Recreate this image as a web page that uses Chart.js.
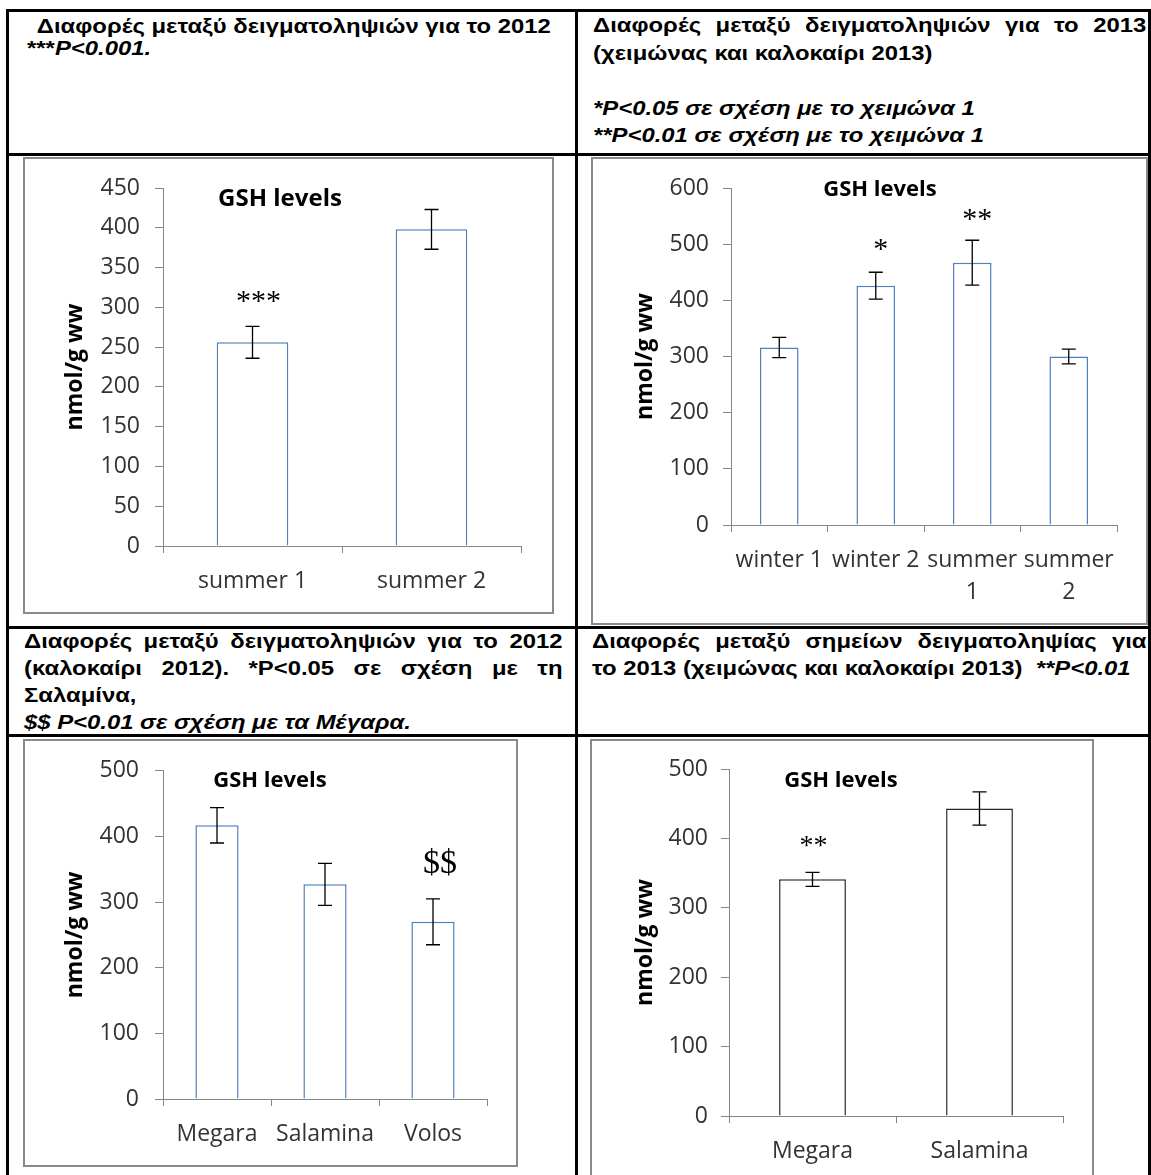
<!DOCTYPE html>
<html lang="el">
<head>
<meta charset="UTF-8">
<title>GSH levels</title>
<script src="https://cdn.jsdelivr.net/npm/chart.js"></script>
<style>
    body {
        margin: 0;
        width: 1151px;
        height: 1175px;
        position: relative;
        overflow: hidden;
        background: #fff;
        font-family: "Liberation Sans", Arial, sans-serif;
    }
    .line { position: absolute; background: #000; }
    /* the document text is wider than plain Arial, so stretch it a bit */
    .head {
        position: absolute;
        font-weight: bold;
        font-size: 19.5px;
        color: #000;
        transform: scaleX(1.224);
        transform-origin: left top;
    }
    .j { text-align: justify; text-align-last: justify; }
    .frame {
        position: absolute;
        border: 2px solid #8a8a8a;
        background: #fff;
        box-sizing: border-box;
    }
    .frame canvas { position: absolute; left: 0; top: 0; }
    .gtitle {
        position: absolute;
        font-family: "Open Sans", sans-serif;
        font-weight: bold;
        color: #000;
        transform: translate(-50%, -50%);
        white-space: nowrap;
    }
</style>
</head>
<body>

<!-- table lines -->
<div class="line" style="left:7px;top:9px;width:1144px;height:3px"></div>
<div class="line" style="left:7px;top:153px;width:1144px;height:3px"></div>
<div class="line" style="left:7px;top:626px;width:1144px;height:3px"></div>
<div class="line" style="left:7px;top:734px;width:1144px;height:3px"></div>
<div class="line" style="left:6px;top:9px;width:3px;height:1166px"></div>
<div class="line" style="left:575px;top:9px;width:3px;height:1166px"></div>
<div class="line" style="left:1148px;top:9px;width:3px;height:1166px"></div>

<div class="head" style="left:27px;top:15px;width:441px;line-height:22px">
    <div style="text-indent:8px">Διαφορές μεταξύ δειγματοληψιών για το 2012</div>
    <div>***<i>P&lt;0.001.</i></div>
</div>

<div class="head" style="left:593px;top:12px;width:452px;line-height:27.5px">
    <div class="j">Διαφορές μεταξύ δειγματοληψιών για το 2013</div>
    <div>(χειμώνας και καλοκαίρι 2013)</div>
    <div>&nbsp;</div>
    <div><i>*P&lt;0.05 σε σχέση με το χειμώνα 1</i></div>
    <div><i>**P&lt;0.01 σε σχέση με το χειμώνα 1</i></div>
</div>

<div class="head" style="left:24px;top:628px;width:440px;line-height:27px">
    <div class="j">Διαφορές μεταξύ δειγματοληψιών για το 2012</div>
    <div class="j">(καλοκαίρι 2012). *P&lt;0.05 σε σχέση με τη</div>
    <div>Σαλαμίνα,</div>
    <div><i>$$ P&lt;0.01 σε σχέση με τα Μέγαρα.</i></div>
</div>

<div class="head" style="left:592px;top:628px;width:453px;line-height:27px">
    <div class="j">Διαφορές μεταξύ σημείων δειγματοληψίας για</div>
    <div>το 2013 (χειμώνας και καλοκαίρι 2013) &nbsp;<i>**P&lt;0.01</i></div>
</div>

<div class="frame" style="left:23px;top:157px;width:531px;height:457px"><canvas id="c1"></canvas></div>
<div class="frame" style="left:591px;top:157px;width:557px;height:468px"><canvas id="c2"></canvas></div>
<div class="frame" style="left:23px;top:739px;width:495px;height:428px"><canvas id="c3"></canvas></div>
<div class="frame" style="left:590px;top:739px;width:504px;height:460px"><canvas id="c4"></canvas></div>

<div class="gtitle" style="left:280px;top:196px;font-size:24px">GSH levels</div>
<div class="gtitle" style="left:880px;top:187px;font-size:22px">GSH levels</div>
<div class="gtitle" style="left:270px;top:778px;font-size:22px">GSH levels</div>
<div class="gtitle" style="left:841px;top:778px;font-size:22px">GSH levels</div>

<script>
    const yTitle = 'nmol/g ww';

    // 2012, summer 1 vs summer 2
    const seasons2012 = ['summer 1', 'summer 2'];
    const gsh2012 = [256, 398];
    const err2012 = [20, 25];
    const sig2012 = ['***', ''];
    const sigAt2012 = [313, null];

    // 2013, winter and summer
    const seasons2013 = ['winter 1', 'winter 2', ['summer', '1'], ['summer', '2']];
    const gsh2013 = [316, 426, 467, 300];
    const err2013 = [18, 24, 40, 13];
    const sig2013 = ['', '*', '**', ''];
    const sigAt2013 = [null, 499, 552, null];

    // 2012, sites
    const sites2012 = ['Megara', 'Salamina', 'Volos'];
    const gshSites2012 = [417, 327, 270];
    const errSites2012 = [27, 32, 35];
    const sigSites2012 = ['', '', '$$'];
    const sigAtSites2012 = [null, null, 358];

    // 2013, sites
    const sites2013 = ['Megara', 'Salamina'];
    const gshSites2013 = [341, 443];
    const errSites2013 = [10, 24];
    const sigSites2013 = ['**', ''];
    const sigAtSites2013 = [395, null];

    const axisGray = '#868686';
    const tickColor = '#333333';
    const blue = '#4f81bd';

    // error bars + significance marks, all through the chart scales
    const extrasPlugin = {
        id: 'extras',
        afterDatasetsDraw(chart, args, opts) {
            const ctx = chart.ctx;
            const meta = chart.getDatasetMeta(0);
            const y = chart.scales.y;
            const x = chart.scales.x;
            const vals = chart.data.datasets[0].data;
            ctx.save();
            ctx.strokeStyle = '#000';
            ctx.lineWidth = 1.3;
            vals.forEach((v, i) => {
                const bx = meta.data[i].x;
                const top = y.getPixelForValue(v + opts.err[i]);
                const bot = y.getPixelForValue(v - opts.err[i]);
                ctx.beginPath();
                ctx.moveTo(bx, top); ctx.lineTo(bx, bot);
                ctx.moveTo(bx - 7, top); ctx.lineTo(bx + 7, top);
                ctx.moveTo(bx - 7, bot); ctx.lineTo(bx + 7, bot);
                ctx.stroke();
            });
            ctx.fillStyle = '#000';
            ctx.textAlign = 'center';
            ctx.textBaseline = 'middle';
            opts.sig.forEach((s, i) => {
                if (!s) return;
                ctx.font = opts.sigSize + 'px "Liberation Serif", "Times New Roman", serif';
                const sx = x.getPixelForValue(i) + opts.sigDx;
                const sy = y.getPixelForValue(opts.sigAt[i]);
                ctx.fillText(s, sx, sy + opts.sigShift);
            });
            ctx.restore();
        }
    };

    function makeChart(id, labels, values, err, sig, sigAt, o) {
        const canvas = document.getElementById(id);
        canvas.width = o.w;
        canvas.height = o.h;
        return new Chart(canvas, {
            type: 'bar',
            data: {
                labels: labels,
                datasets: [{
                    data: values,
                    backgroundColor: '#ffffff',
                    borderColor: o.barColor || blue,
                    borderWidth: 1.5,
                    borderSkipped: 'bottom',
                    barPercentage: 0.4,
                    categoryPercentage: 1
                }]
            },
            options: {
                responsive: false,
                animation: false,
                layout: { padding: { left: 0, top: o.padTop, right: o.padRight, bottom: 0 } },
                plugins: {
                    legend: { display: false },
                    tooltip: { enabled: false },
                    extras: { err: err, sig: sig, sigAt: sigAt, sigSize: o.sigSize, sigShift: o.sigShift, sigDx: o.sigDx }
                },
                scales: {
                    x: {
                        grid: { display: true, drawOnChartArea: false, offset: true, tickLength: 7, color: axisGray },
                        border: { color: axisGray, width: 1 },
                        ticks: {
                            color: tickColor,
                            padding: 12,
                            maxRotation: 0,
                            autoSkip: false,
                            font: { family: 'Open Sans', size: 23, lineHeight: 1.4 }
                        },
                        afterFit(s) { s.height = o.xHeight; }
                    },
                    y: {
                        min: 0,
                        max: o.yMax,
                        grid: { drawOnChartArea: false, tickLength: 8, color: axisGray },
                        border: { color: axisGray, width: 1 },
                        ticks: {
                            stepSize: o.yStep,
                            color: tickColor,
                            padding: o.tickPad,
                            font: { family: 'Open Sans', size: 23 }
                        },
                        title: {
                            display: true,
                            text: yTitle,
                            color: '#000',
                            font: { family: 'Open Sans', size: 23, weight: 'bold', lineHeight: 1.2 },
                            padding: { top: o.titlePad, bottom: 0 }
                        },
                        afterFit(s) { s.width = o.yWidth; }
                    }
                }
            },
            plugins: [extrasPlugin]
        });
    }

    makeChart('c1', seasons2012, gsh2012, err2012, sig2012, sigAt2012, {
        w: 527, h: 453, yWidth: 138, padTop: 29, padRight: 31, xHeight: 66,
        yMax: 450, yStep: 50, tickPad: 15, titlePad: 37, sigSize: 30, sigShift: 5, sigDx: 6
    });
    makeChart('c2', seasons2013, gsh2013, err2013, sig2013, sigAt2013, {
        w: 553, h: 464, yWidth: 138, padTop: 29, padRight: 29, xHeight: 98,
        yMax: 600, yStep: 100, tickPad: 14, titlePad: 39, sigSize: 30, sigShift: 5, sigDx: 5
    });
    makeChart('c3', sites2012, gshSites2012, errSites2012, sigSites2012, sigAtSites2012, {
        w: 491, h: 424, yWidth: 138, padTop: 29, padRight: 29, xHeight: 66,
        yMax: 500, yStep: 100, tickPad: 16, titlePad: 37, sigSize: 34, sigShift: 0, sigDx: 7
    });
    makeChart('c4', sites2013, gshSites2013, errSites2013, sigSites2013, sigAtSites2013, {
        w: 500, h: 456, yWidth: 137, padTop: 28, padRight: 29, xHeight: 81,
        yMax: 500, yStep: 100, tickPad: 13, titlePad: 40, sigSize: 28, sigShift: 5, sigDx: 1,
        barColor: '#262626'
    });
</script>
</body>
</html>
